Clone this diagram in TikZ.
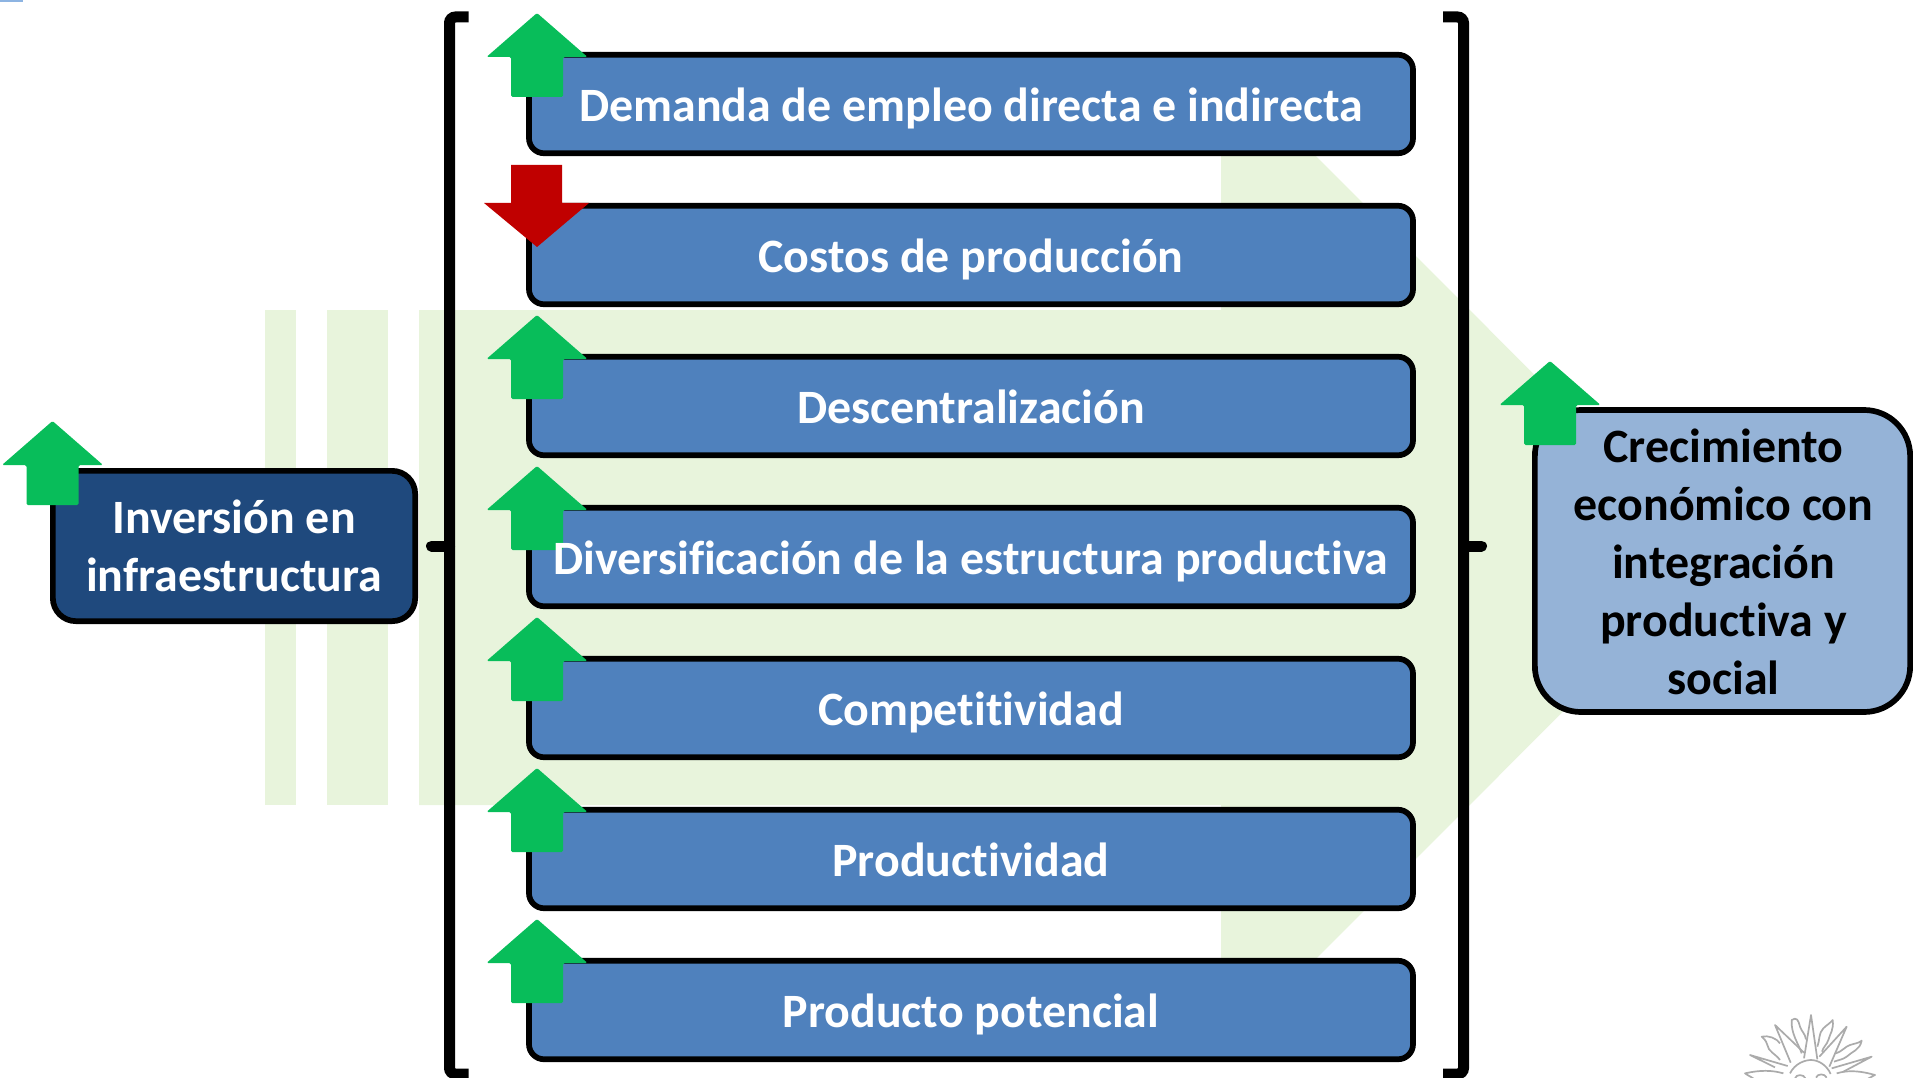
\documentclass[tikz,border=0pt]{standalone}
\usepackage{fontspec}
\setmainfont{Carlito}[Ligatures=NoCommon]
\definecolor{stripg}{HTML}{E8F4DC}
\definecolor{boxblue}{HTML}{4F81BD}
\definecolor{boxdark}{HTML}{1F497D}
\definecolor{boxlight}{HTML}{95B3D7}
\definecolor{upg}{HTML}{08BD5A}
\definecolor{downr}{HTML}{C00000}
\definecolor{tickb}{HTML}{8DB4E2}
\definecolor{sung}{HTML}{ABABAB}
\tikzset{
  bigfont/.style={font=\fontsize{47.9}{58}\selectfont\bfseries},
  midbox/.style={draw=black,line width=5.7pt,fill=boxblue,rounded corners=15pt,
    minimum width=884pt,minimum height=98.5pt,inner sep=0pt},
  midlabel/.style={bigfont,text=white,inner sep=0pt,text height=36.5pt,text depth=3.5pt},
  upshape/.style={fill=upg,rounded corners=1.5pt},
  bracketline/.style={line width=11pt,rounded corners=6pt},
  tickline/.style={line width=11pt,line cap=round},
  sunline/.style={draw=sung,line width=1.7pt,line join=round},
}
\newcommand{\uparrowat}[2]{%
  \fill[upshape] (#1,#2-1) -- (#1+50.5,#2+43) -- (#1+26,#2+43) -- (#1+26,#2+83)
    -- (#1-26,#2+83) -- (#1-26,#2+43) -- (#1-50.5,#2+43) -- cycle;}
\begin{document}
\begin{tikzpicture}[x=1pt,y=-1pt]
\useasboundingbox (0,0) rectangle (1913,1078);
\clip (0,0) rectangle (1913,1078);
% corner tick
\fill[tickb] (0,0) rectangle (23,2.5);
% background block arrow
\fill[stripg] (264.5,310) rectangle (295.5,805);
\fill[stripg] (326.5,310) rectangle (388,805);
\fill[stripg] (419,310) -- (1221,310) -- (1221,61) -- (1717,557.5) -- (1221,1054) -- (1221,805) -- (419,805) -- cycle;
% brackets
\draw[bracketline] (468.5,17) -- (449.5,17) -- (449.5,1074) -- (468.5,1074);
\draw[tickline] (449.5,546) -- (431.5,546);
\draw[bracketline] (1443,17) -- (1463.5,17) -- (1463.5,1074) -- (1443,1074);
\draw[tickline] (1463.5,546) -- (1481.5,546);
% boxes
\node[midbox] (b1) at (971,104) {};
\node[midbox] (b2) at (971,255) {};
\node[midbox] (b3) at (971,406) {};
\node[midbox] (b4) at (971,557) {};
\node[midbox] (b5) at (971,708) {};
\node[midbox] (b6) at (971,859) {};
\node[midbox] (b7) at (971,1010) {};
\node[draw=black,line width=5.7pt,fill=boxdark,rounded corners=23pt,minimum width=362.3pt,minimum height=150.3pt,inner sep=0pt] (inv) at (234,546) {};
\node[draw=black,line width=5.7pt,fill=boxlight,rounded corners=46pt,minimum width=375.3pt,minimum height=302pt,inner sep=0pt] (cre) at (1722.5,561) {};
% arrows
\uparrowat{537}{14}
\fill[downr] (511,165) -- (562,165) -- (562,203) -- (589,203) -- (537,247) -- (484,203) -- (511,203) -- cycle;
\uparrowat{537}{316}
\uparrowat{537}{467}
\uparrowat{537}{618}
\uparrowat{537}{769}
\uparrowat{537}{920}
\uparrowat{52.5}{422}
\uparrowat{1550}{362}
% labels
\node[midlabel,yshift=-1pt] (l1) at (b1.center) {Demanda de empleo directa e indirecta};
\node[midlabel,yshift=-1pt] (l2) at (b2.center) {Costos de producción};
\node[midlabel,yshift=-1pt] (l3) at (b3.center) {Descentralización};
\node[midlabel,yshift=-1pt] (l4) at (b4.center) {Diversificación de la estructura productiva};
\node[midlabel,yshift=-1pt] (l5) at (b5.center) {Competitividad};
\node[midlabel,yshift=-1pt] (l6) at (b6.center) {Productividad};
\node[midlabel,yshift=-1pt] (l7) at (b7.center) {Producto potencial};
\node[bigfont,text=white,align=center,inner sep=0pt] (linv) at (inv.center) {Inversión en\\infraestructura};
\node[bigfont,text=black,align=center,inner sep=0pt,yshift=-0.5pt,xshift=1pt] (lcre) at (cre.center) {Crecimiento\\económico con\\integración\\productiva y\\social};
% sun emblem
\begin{scope}[xshift=1730pt,yshift=-1010pt,x=0.3333pt,y=-0.3333pt]
\draw[sunline] (180,190) .. controls (195,160) and (225,150) .. (243,150) .. controls (265,150) and (290,165) .. (302,192);
\draw[sunline] (222,145) -- (243,15) -- (262,148);
\draw[sunline] (215,130) .. controls (205,100) and (182,70) .. (185,30) .. controls (200,20) and (205,30) .. (210,50) .. controls (215,65) and (225,70) .. (228,88);
\draw[sunline] (262,110) .. controls (270,90) and (265,70) .. (280,55) .. controls (290,45) and (300,40) .. (308,30) .. controls (312,60) and (300,70) .. (295,90) .. controls (290,105) and (280,110) .. (276,125);
\draw[sunline] (182,158) -- (135,45) -- (222,128);
\draw[sunline] (268,140) -- (350,50) -- (298,170);
\draw[sunline] (150,150) .. controls (135,130) and (115,125) .. (112,105) .. controls (108,90) and (100,85) .. (95,80) .. controls (115,75) and (140,85) .. (150,100);
\draw[sunline] (318,130) .. controls (335,125) and (345,110) .. (360,105) .. controls (375,100) and (385,100) .. (395,92) .. controls (390,120) and (365,125) .. (350,140) .. controls (340,148) and (325,150) .. (312,155);
\draw[sunline] (173,168) -- (60,135) -- (135,172);
\draw[sunline] (305,175) -- (425,140) -- (340,185);
\draw[sunline] (160,190) .. controls (125,180) and (90,180) .. (45,190) .. controls (55,198) and (65,200) .. (75,210);
\draw[sunline] (320,190) .. controls (360,178) and (400,185) .. (435,195) .. controls (425,200) and (415,205) .. (405,212);
\draw[sunline] (195,205) .. controls (198,192) and (222,192) .. (226,205);
\draw[sunline] (258,203) .. controls (262,190) and (285,190) .. (290,203);
\end{scope}
\end{tikzpicture}
\end{document}
